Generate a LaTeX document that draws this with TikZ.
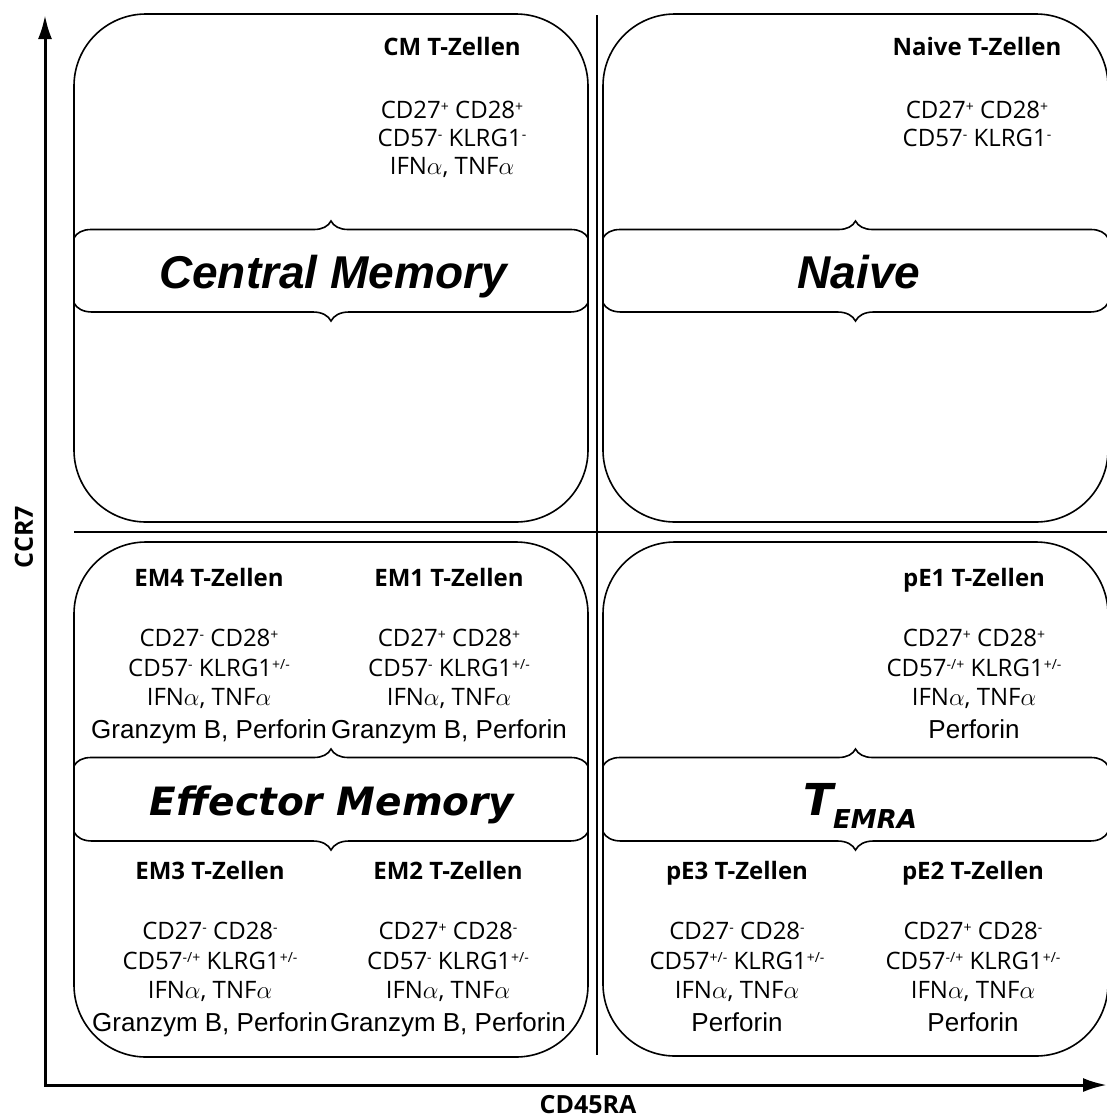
\documentclass[tikz,border=0pt]{standalone}
\usepackage{fontspec}
\setmainfont{Open Sans}
\newfontfamily\arialf{Liberation Sans}
\newfontfamily\verdf{DejaVu Sans}
\usetikzlibrary{decorations.pathreplacing,arrows.meta}
\newcommand\sps[1]{\raisebox{7pt}{\fontsize{14}{14}\selectfont #1}}
\newcommand\ifnline{IFN$\alpha$, TNF$\alpha$}
\newcommand\cellblock[8]{%
  \node[hdr] (#1h) at ({#2},{-(#3)}) {#4};
  \node[bodyt] (#1a) at ({#2},{-(#3+60)}) {#5};
  \node[bodyt] (#1b) at ({#2},{-(#3+90)}) {#6};
  \node[bodyt] (#1c) at ({#2},{-(#3+119)}) {#7};
  \node[arl] (#1d) at ({#2},{-(#3+152)}) {#8};
}
\begin{document}
\begin{tikzpicture}[x=1pt,y=1pt,
  box/.style={draw, line width=1.6pt, rounded corners=72pt, inner sep=0pt, outer sep=0pt},
  bracedec/.style={decorate, decoration={brace, amplitude=#1}, line width=1.6pt},
  hdr/.style={anchor=base, inner sep=0pt, font=\fontsize{24}{28}\selectfont\bfseries},
  bodyt/.style={anchor=base, inner sep=0pt, font=\fontsize{24}{28}\selectfont},
  arl/.style={anchor=base, inner sep=0pt, font=\arialf\fontsize{26}{28}\selectfont},
  bigarial/.style={anchor=base, inner sep=0pt, font=\arialf\bfseries\itshape\fontsize{46}{50}\selectfont},
  bighum/.style={anchor=base, inner sep=0pt, font=\verdf\bfseries\itshape\fontsize{39}{46}\selectfont},
  axlabel/.style={inner sep=0pt, font=\fontsize{25}{28}\selectfont\bfseries},
  divider/.style={line width=1.8pt}
]
\useasboundingbox (0,0) rectangle (1107,-1117);

% quadrant boxes
\node[box, minimum width=514pt, minimum height=508pt] (tl) at (331,-268) {};
\node[box, minimum width=505pt, minimum height=508pt] (tr) at (855.5,-268) {};
\node[box, minimum width=514pt, minimum height=515pt] (bl) at (331,-799.5) {};
\node[box, minimum width=505pt, minimum height=514pt] (br) at (855.5,-799) {};

% dividers
\coordinate (vtop) at (597,-15);
\coordinate (vbot) at (597,-1055);
\coordinate (hl) at (74,-532);
\coordinate (hr) at (1107,-532);
\draw[divider] (vtop) -- (vbot);
\draw[divider] (hl) -- (hr);

% axes
\coordinate (ytop) at (45,-15);
\coordinate (origin) at (45,-1085);
\coordinate (xend) at (1107,-1085);
\draw[line width=3pt, {Latex[length=24pt,width=14pt]}-{Latex[length=24pt,width=14pt]}] (ytop) -- (origin) -- (xend);
\node[axlabel, rotate=90] (ccr) at (24,-537) {CCR7};
\node[axlabel, anchor=base] (cd45) at (588,-1113) {CD45RA};

% braces (bands)
\draw[bracedec=17pt] (74,-238) -- (588,-238);
\draw[bracedec=18pt] (588,-303) -- (74,-303);
\draw[bracedec=17pt] (603,-238) -- (1108,-238);
\draw[bracedec=18pt] (1108,-303) -- (603,-303);
\draw[bracedec=17pt] (74,-766) -- (588,-766);
\draw[bracedec=18pt] (588,-832) -- (74,-832);
\draw[bracedec=17pt] (603,-766) -- (1108,-766);
\draw[bracedec=18pt] (1108,-832) -- (603,-832);

% band labels
\node[bigarial] (cm) at (333,-288) {Central Memory};
\node[bigarial] (nv) at (859,-288) {Naive};
\node[bighum] (em) at (332,-815) {Effector Memory};
\node[anchor=base, inner sep=0pt, font=\verdf\bfseries\itshape\fontsize{44}{50}\selectfont] (temra) at (860,-815) {T\raisebox{-13pt}{\fontsize{26}{30}\selectfont EMRA}};

% top left
\node[hdr] (cmh) at (452,-55) {CM T-Zellen};
\node[bodyt] (cma) at (452,-118) {CD27\sps{+} CD28\sps{+}};
\node[bodyt] (cmb) at (452,-146) {CD57\sps{-} KLRG1\sps{-}};
\node[bodyt] (cmc) at (452,-174) {\ifnline};

% top right
\node[hdr] (nvh) at (977,-55) {Naive T-Zellen};
\node[bodyt] (nva) at (977,-118) {CD27\sps{+} CD28\sps{+}};
\node[bodyt] (nvb) at (977,-146) {CD57\sps{-} KLRG1\sps{-}};

% bottom left, upper half
\cellblock{emf}{209}{586}{EM4 T-Zellen}{CD27\sps{-} CD28\sps{+}}{CD57\sps{-} KLRG1\sps{+/-}}{\ifnline}{Granzym B, Perforin}
\cellblock{emo}{449}{586}{EM1 T-Zellen}{CD27\sps{+} CD28\sps{+}}{CD57\sps{-} KLRG1\sps{+/-}}{\ifnline}{Granzym B, Perforin}
% bottom right, upper half
\cellblock{peo}{974}{586}{pE1 T-Zellen}{CD27\sps{+} CD28\sps{+}}{CD57\sps{-/+} KLRG1\sps{+/-}}{\ifnline}{Perforin}

% bottom left, lower half
\cellblock{emt}{210}{879}{EM3 T-Zellen}{CD27\sps{-} CD28\sps{-}}{CD57\sps{-/+} KLRG1\sps{+/-}}{\ifnline}{Granzym B, Perforin}
\cellblock{ems}{448}{879}{EM2 T-Zellen}{CD27\sps{+} CD28\sps{-}}{CD57\sps{-} KLRG1\sps{+/-}}{\ifnline}{Granzym B, Perforin}
% bottom right, lower half
\cellblock{pet}{737}{879}{pE3 T-Zellen}{CD27\sps{-} CD28\sps{-}}{CD57\sps{+/-} KLRG1\sps{+/-}}{\ifnline}{Perforin}
\cellblock{pes}{973}{879}{pE2 T-Zellen}{CD27\sps{+} CD28\sps{-}}{CD57\sps{-/+} KLRG1\sps{+/-}}{\ifnline}{Perforin}
\end{tikzpicture}
\end{document}
